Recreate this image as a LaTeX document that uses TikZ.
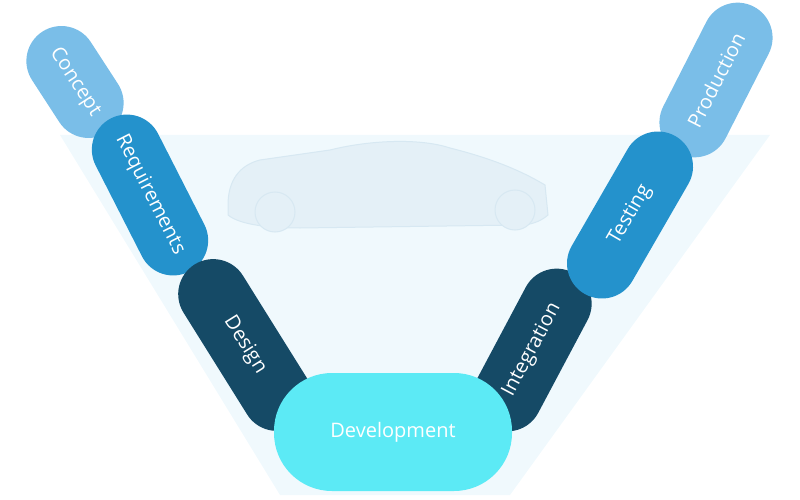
\documentclass[tikz,border=0pt]{standalone}
\usepackage{fontspec}
\setmainfont{Open Sans}
\definecolor{bgc}{RGB}{240,249,253}
\definecolor{carline}{RGB}{215,232,242}
\definecolor{carfill}{RGB}{228,240,247}
\definecolor{lightb}{RGB}{122,190,232}
\definecolor{midb}{RGB}{36,146,204}
\definecolor{darkb}{RGB}{21,74,102}
\definecolor{cyanb}{RGB}{92,234,245}
\begin{document}
\begin{tikzpicture}[x=1pt,y=-1pt,
  pill/.style={rectangle,rounded corners=35pt,minimum height=70pt,text=white,font=\fontsize{20}{23}\selectfont,inner sep=0pt}]
\useasboundingbox (0,0) rectangle (800,500);
\fill[bgc] (60,135) -- (770,135) -- (510,495) -- (280,495) -- cycle;
% faint car
\begin{scope}[draw=carline,fill=carfill,line width=1pt]
\filldraw (228,205) .. controls (228,180) and (240,165) .. (260,160) -- (330,150) .. controls (370,140) and (420,138) .. (450,148) .. controls (490,158) and (520,170) .. (545,185) -- (548,215) .. controls (540,222) and (530,225) .. (520,225) -- (300,228) .. controls (270,228) and (240,225) .. (228,215) -- cycle;
\filldraw (275,212) circle (20);
\filldraw (515,210) circle (20);
\end{scope}
\node[pill,fill=lightb,minimum width=120pt,rotate=-57] (concept) at (75,82) {Concept};
\node[pill,fill=midb,minimum width=172pt,rotate=-63] (req) at (150,195) {Requirements};
\node[pill,fill=darkb,minimum width=190pt,rotate=-58] (design) at (245,345) {Design};
\node[pill,fill=lightb,minimum width=165pt,rotate=63] (prod) at (716,80) {Production};
\node[pill,fill=darkb,minimum width=175pt,rotate=62] (integ) at (532,350) {Integration};
\node[pill,fill=midb,minimum width=182pt,rotate=60] (test) at (630,215) {Testing};
\node[pill,rounded corners=58pt,minimum height=118pt,minimum width=238pt,fill=cyanb] (dev) at (393,432) {Development};
\end{tikzpicture}
\end{document}
